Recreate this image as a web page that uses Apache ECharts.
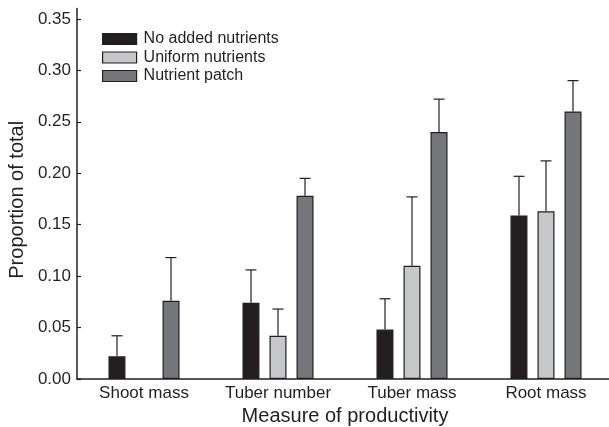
<!DOCTYPE html>
<html>
<head>
<meta charset="utf-8">
<script src="https://cdn.jsdelivr.net/npm/echarts@6/dist/echarts.min.js"></script>
<style>html,body{margin:0;padding:0;background:#fff;}#c{width:609px;height:427px;}</style>
</head>
<body>
<div id="c"></div>
<script>
var categories = ['Shoot mass', 'Tuber number', 'Tuber mass', 'Root mass'];
var seriesNames = ['No added nutrients', 'Uniform nutrients', 'Nutrient patch'];
var noAdded = [0.022, 0.074, 0.048, 0.159];
var noAddedUpper = [0.042, 0.106, 0.078, 0.197];
var uniform = [0, 0.042, 0.110, 0.163];
var uniformUpper = [null, 0.068, 0.177, 0.212];
var patch = [0.076, 0.178, 0.240, 0.260];
var patchUpper = [0.118, 0.195, 0.272, 0.290];
var yTicks = [0, 0.05, 0.10, 0.15, 0.20, 0.25, 0.30, 0.35];

var colors = ['#231f20', '#c6c7c9', '#76777b'];
var values = [noAdded, uniform, patch];
var uppers = [noAddedUpper, uniformUpper, patchUpper];
var dark = '#231f20';
var font = 'Liberation Sans, Arial, Helvetica, sans-serif';

var chart = echarts.init(document.getElementById('c'), null, {renderer: 'canvas'});
var series = [];
for (var s = 0; s < 3; s++) {
  series.push({
    name: seriesNames[s],
    type: 'bar',
    data: values[s].map(function (v) { return v === 0 ? '-' : v; }),
    barWidth: 17,
    barGap: '59%',
    itemStyle: {color: colors[s], borderColor: dark, borderWidth: 1.2},
    emphasis: {disabled: true}
  });
}
for (var s2 = 0; s2 < 3; s2++) {
  (function (si) {
    var d = [];
    for (var i = 0; i < categories.length; i++) {
      d.push([i, values[si][i], uppers[si][i]]);
    }
    series.push({
      type: 'custom',
      data: d,
      silent: true,
      z: 1,
      renderItem: function (params, api) {
        var i = api.value(0);
        var v = api.value(1);
        var u = api.value(2);
        if (u == null || isNaN(u)) return null;
        var p0 = api.coord([i, v]);
        var p1 = api.coord([i, u]);
        var x = p0[0] + (si - 1) * 27;
        var st = {stroke: dark, lineWidth: 1.2};
        return {
          type: 'group',
          children: [
            {type: 'line', shape: {x1: x, y1: p0[1], x2: x, y2: p1[1]}, style: st},
            {type: 'line', shape: {x1: x - 5.5, y1: p1[1], x2: x + 5.5, y2: p1[1]}, style: st}
          ]
        };
      }
    });
  })(s2);
}

chart.setOption({
  animation: false,
  backgroundColor: '#fff',
  legend: {
    orient: 'vertical',
    left: 97,
    top: 26,
    icon: 'rect',
    itemWidth: 34,
    itemHeight: 11,
    itemGap: 2.5,
    selectedMode: false,
    data: seriesNames.map(function (n, k) {
      return {name: n, itemStyle: {color: colors[k], borderColor: dark, borderWidth: 1.2}};
    }),
    textStyle: {fontFamily: font, fontSize: 16, color: dark, padding: [0, 0, 0, 2]}
  },
  grid: {left: 77, right: -4, top: 8.6, bottom: 48, containLabel: false, outerBoundsMode: 'none'},
  xAxis: {
    type: 'category',
    data: categories,
    name: 'Measure of productivity',
    nameLocation: 'middle',
    nameGap: 26,
    nameTextStyle: {fontFamily: font, fontSize: 20, color: dark},
    axisLine: {lineStyle: {color: dark, width: 1.5}},
    axisTick: {show: false},
    axisLabel: {fontFamily: font, fontSize: 17, color: dark, margin: 6, interval: 0}
  },
  yAxis: {
    type: 'value',
    min: 0,
    max: 0.36,
    interval: 0.05,
    name: 'Proportion of total',
    nameLocation: 'middle',
    nameGap: 47,
    nameTextStyle: {fontFamily: font, fontSize: 20, color: dark, padding: [0, 12, 0, 0]},
    splitLine: {show: false},
    axisLine: {show: true, lineStyle: {color: dark, width: 1.5}},
    axisTick: {show: true, inside: true, length: 4, lineStyle: {color: dark, width: 1.2}, customValues: yTicks},
    axisLabel: {fontFamily: font, fontSize: 17, color: dark, margin: 6, customValues: yTicks,
      formatter: function (v) { return v.toFixed(2); }}
  },
  series: series
});
</script>
</body>
</html>
